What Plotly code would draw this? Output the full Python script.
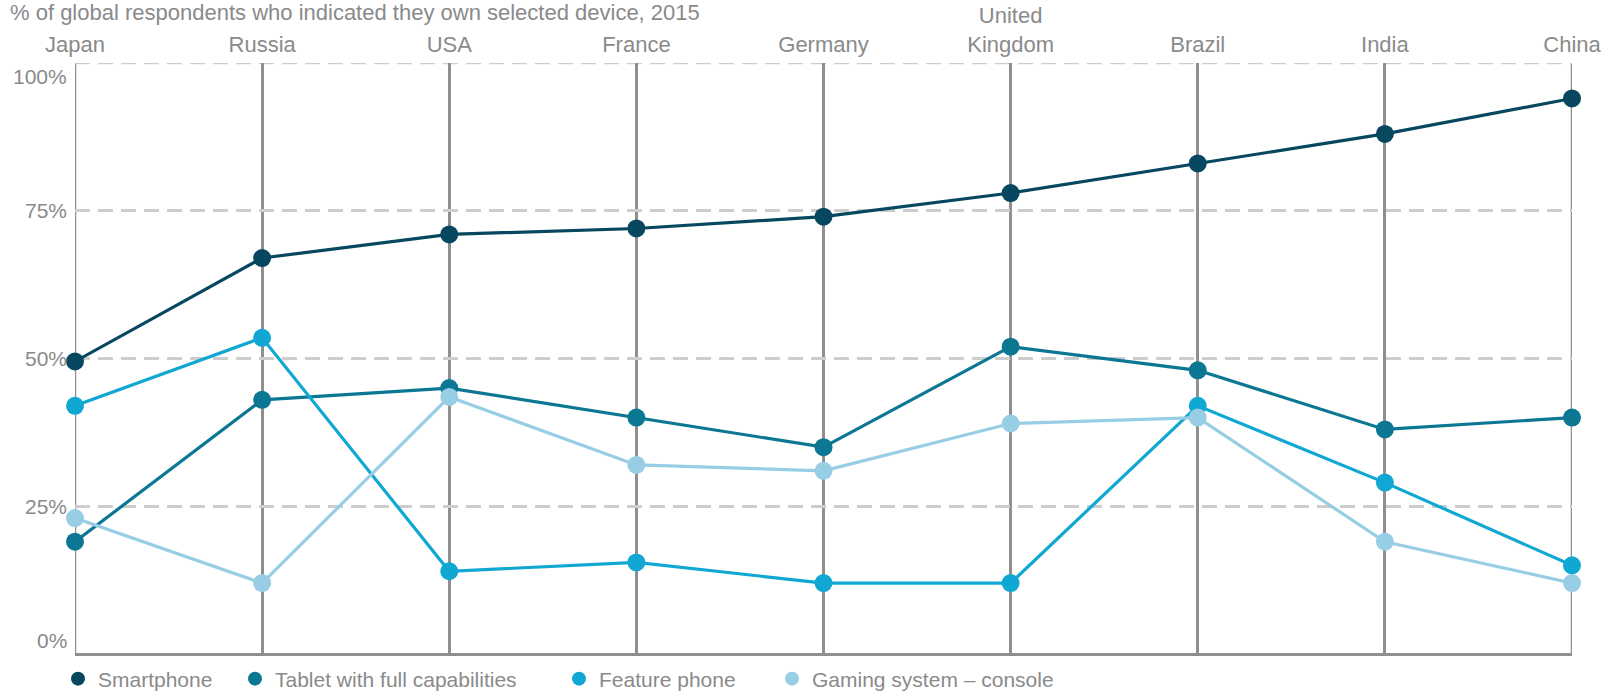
import plotly.graph_objects as go

# Device ownership by country, 2015 (% of respondents)
countries = ["Japan", "Russia", "USA", "France", "Germany", "United<br>Kingdom", "Brazil", "India", "China"]
smartphone = [49.5, 67, 71, 72, 74, 78, 83, 88, 94]
tablet = [19, 43, 45, 40, 35, 52, 48, 38, 40]
feature_phone = [42, 53.5, 14, 15.5, 12, 12, 42, 29, 15]
gaming_console = [23, 12, 43.5, 32, 31, 39, 40, 19, 12]

series_names = ["Smartphone", "Tablet with full capabilities", "Feature phone", "Gaming system \u2013 console"]
series_values = [smartphone, tablet, feature_phone, gaming_console]
series_colors = ["#07475f", "#0b7793", "#10a8d2", "#98cde6"]

y_ticks = [0, 25, 50, 75, 100]

W, H = 1613, 692
TEXT = "#8a8a8a"
GRID_V = "#8f8f8f"
GRID_H = "#cdcdcd"
DASH = "15px,8px"
FONT = "Liberation Sans, Arial, sans-serif"

fig = go.Figure()

for name, vals, col in zip(series_names, series_values, series_colors):
    fig.add_trace(go.Scatter(
        x=countries, y=vals, name=name, mode="lines+markers",
        line=dict(color=col, width=3.2),
        marker=dict(color=col, size=18),
        cliponaxis=False, showlegend=False,
    ))

# one dot-only legend entry per series, each in its own legend box
legend_x = [58, 235, 559, 772]
legend_ids = ["legend", "legend2", "legend3", "legend4"]
for name, col, lid in zip(series_names, series_colors, legend_ids):
    fig.add_trace(go.Scatter(
        x=[None], y=[None], name=name, mode="markers",
        marker=dict(color=col, size=14), legend=lid, showlegend=True,
    ))

legend_common = dict(
    orientation="h", xref="container", yref="container",
    yanchor="middle", xanchor="left", y=(H - 679) / H,
    font=dict(family=FONT, size=21, color=TEXT),
    bgcolor="rgba(0,0,0,0)", borderwidth=0, itemsizing="trace",
)
legend_layout = {lid: dict(legend_common, x=lx / W) for lid, lx in zip(legend_ids, legend_x)}

# y tick labels, kept inside the plot's vertical extent at the ends
annotations = []
for v in y_ticks:
    anchor = "top" if v == max(y_ticks) else ("bottom" if v == min(y_ticks) else "middle")
    annotations.append(dict(
        x=0, xref="paper", y=v, yref="y", text=f"{v}%", showarrow=False,
        xanchor="right", yanchor=anchor, xshift=-6,
        font=dict(family=FONT, size=21, color=TEXT),
    ))

# frame lines at the ends of the axes (grid lines are not drawn there)
shapes = [
    dict(type="line", xref="x", yref="y", x0=countries[0], x1=countries[0], y0=0, y1=max(y_ticks),
         line=dict(color=GRID_V, width=2.5), layer="below"),
    dict(type="line", xref="x", yref="y", x0=countries[-1], x1=countries[-1], y0=0, y1=max(y_ticks),
         line=dict(color=GRID_V, width=2.5), layer="below"),
    dict(type="line", xref="x", yref="y", x0=countries[0], x1=countries[-1], y0=max(y_ticks), y1=max(y_ticks),
         line=dict(color=GRID_H, width=2.5, dash=DASH), layer="below"),
]

fig.update_layout(
    width=W, height=H,
    margin=dict(l=75, r=41, t=63, b=38, autoexpand=False),
    paper_bgcolor="white", plot_bgcolor="white",
    title=dict(
        text="% of global respondents who indicated they own selected device, 2015",
        xref="container", yref="container", x=10 / W, y=1 - 12 / H,
        xanchor="left", yanchor="middle",
        font=dict(family=FONT, size=22, color=TEXT),
    ),
    xaxis=dict(
        side="top", range=[0, len(countries) - 1], automargin=False,
        showgrid=True, gridcolor=GRID_V, gridwidth=2.5,
        showline=False, zeroline=False, ticks="", ticklabelstandoff=6,
        tickfont=dict(family=FONT, size=22, color=TEXT),
    ),
    yaxis=dict(
        range=[0, 100], tickvals=y_ticks, showticklabels=False, automargin=False,
        showgrid=True, gridcolor=GRID_H, gridwidth=2.5, griddash=DASH,
        zeroline=True, zerolinecolor=GRID_V, zerolinewidth=2.5,
        showline=False, ticks="",
    ),
    annotations=annotations,
    shapes=shapes,
    showlegend=True,
    **legend_layout,
)

fig.write_html("out.html")
